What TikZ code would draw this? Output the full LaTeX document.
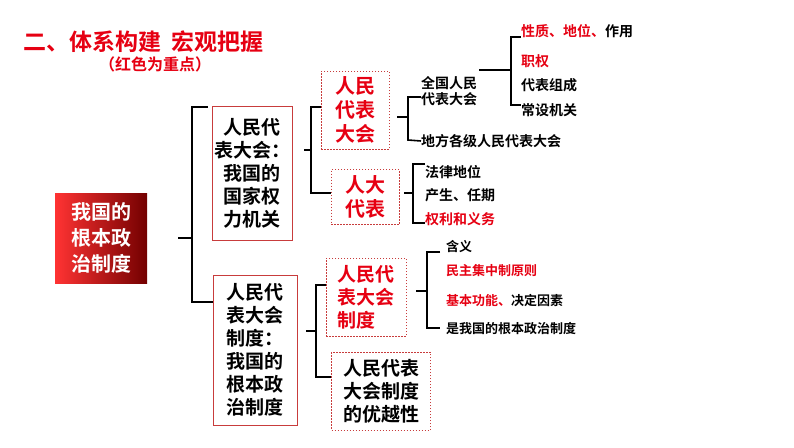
\documentclass[tikz,border=0pt]{standalone}
\usepackage{fontspec}
\setmainfont{Noto Sans CJK SC Bold}
\definecolor{myred}{RGB}{230,0,18}
\definecolor{boxred}{RGB}{200,60,60}
\begin{document}
\begin{tikzpicture}[x=1pt,y=-1pt,
  br/.style={line width=1.6pt},
  solidbox/.style={draw=boxred,line width=0.8pt,align=center,inner sep=0pt,font=\fontsize{19}{23}\selectfont},
  dbox/.style={draw=boxred,dashed,dash pattern=on 1.5pt off 1.5pt,line width=0.6pt,align=left,inner sep=0pt,font=\fontsize{19}{23}\selectfont},
  item/.style={anchor=west,inner sep=0pt,font=\fontsize{14}{16}\selectfont},
  rt/.style={text=myred}]
\useasboundingbox (0,0) rectangle (794,447);
\node[anchor=west,text=myred,font=\fontsize{23}{26}\selectfont] (t1) at (20,42) {二、体系构建\ \ 宏观把握};
\node[text=myred,font=\fontsize{16}{18}\selectfont] (t2) at (155,64) {（红色为重点）};
\shade[left color=red!80!white,right color=red!45!black] (55,193) rectangle (147,283);
\node[text=white,align=center,font=\fontsize{20}{26}\selectfont,minimum width=92,minimum height=90] (root) at (101,238) {我国的\\根本政\\治制度};
\node[solidbox,minimum width=80,minimum height=134] (A) at (252,173) {人民代\\表大会：\\我国的\\国家权\\力机关};
\node[solidbox,minimum width=84,minimum height=150] (B) at (255,350) {人民代\\表大会\\制度：\\我国的\\根本政\\治制度};
\node[dbox,minimum width=68,minimum height=78,text=myred,font=\fontsize{20}{24}\selectfont] (C) at (355,110) {人民\\代表\\大会};
\node[dbox,minimum width=68,minimum height=55,text=myred,font=\fontsize{20}{24}\selectfont] (D) at (365,197) {人大\\代表};
\node[dbox,minimum width=80,minimum height=78,text=myred] (E) at (366,297) {人民代\\表大会\\制度};
\node[dbox,minimum width=99,minimum height=78] (F) at (381,391) {人民代表\\大会制度\\的优越性};
% brackets
\draw[br] (root.east)++(31,0) -- ++(14,0);
\draw[br] (A.west)++(-4,-66) -| (192,302) -- (B.west|-0,302);
\draw[br] (304,150) -- (311,150);
\draw[br] (C.west|-0,107) -| (311,193) -- (D.west|-0,193);
\draw[br] (306,331) -- (316,331);
\draw[br] (E.west|-0,285) -| (316,377) -- (F.west|-0,377);
% NPC
\node[item,align=left] (N1) at (421,91) {全国人民\\代表大会};
\node[item] (N2) at (421,141) {地方各级人民代表大会};
\draw[br] (C.east)++(8,7) -- (408,117);
\draw[br] (N1.west|-0,97) -| (408,140) -- (N2.west);
\node[item,rt] (P1) at (521,31) {性质、地位、\textcolor{black}{作用}};
\node[item,rt] (P2) at (521,61) {职权};
\node[item] (P3) at (521,85) {代表组成};
\node[item] (P4) at (521,110) {常设机关};
\draw[br] (N1.east)++(2,-21) -- (511,70);
\draw[br] (P1.west|-0,37) -| (511,105) -- (P4.west|-0,105);
% deputies
\node[item] (Q1) at (425,172) {法律地位};
\node[item] (Q2) at (425,195) {产生、任期};
\node[item,rt] (Q3) at (425,219) {权利和义务};
\draw[br] (D.east)++(5,-4) -- (413,193);
\draw[br] (Q1.west|-0,164) -| (413,223) -- (Q3.west|-0,223);
% system
\node[item,font=\fontsize{13}{15}\selectfont] (R1) at (446,247) {含义};
\node[item,rt,font=\fontsize{13}{15}\selectfont] (R2) at (446,271) {民主集中制原则};
\node[item,rt,font=\fontsize{13}{15}\selectfont] (R3) at (446,301) {基本功能、\textcolor{black}{决定因素}};
\node[item,font=\fontsize{13}{15}\selectfont] (R4) at (446,329) {是我国的根本政治制度};
\draw[br] (E.east)++(10,-6) -- (427,291);
\draw[br] (440,252) -| (427,328) -- (440,328);
\end{tikzpicture}
\end{document}
